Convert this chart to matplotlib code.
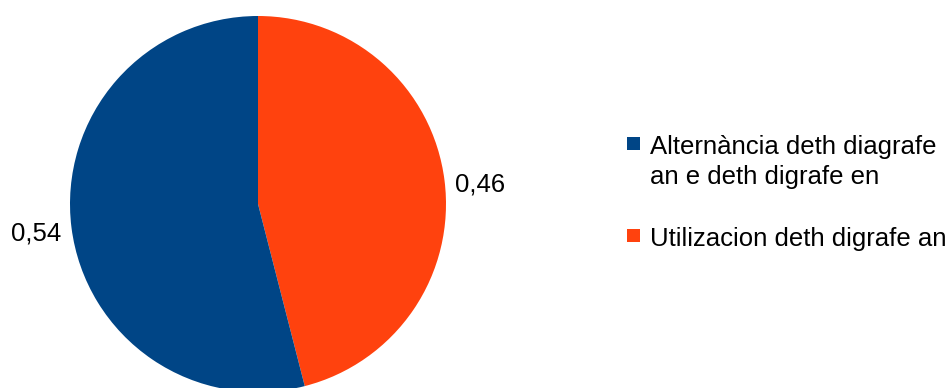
import matplotlib.pyplot as plt
from matplotlib.patches import Rectangle

plt.rcParams['font.family'] = ['Liberation Sans', 'DejaVu Sans']

# data
categories = ["Alternància deth diagrafe\nan e deth digrafe en", "Utilizacion deth digrafe an"]
values = [0.54, 0.46]
value_labels = ["0,54", "0,46"]
colors = ["#004586", "#ff420e"]

W, H = 950, 388
fig = plt.figure(figsize=(9.5, 3.88), dpi=100)
ax = fig.add_axes([0, 0, 1, 1])

# orange slice first, clockwise from 12 o'clock
wedges, texts = ax.pie(values[::-1], colors=colors[::-1], startangle=90, counterclock=False,
                       center=(258, 184), radius=188, labels=value_labels[::-1],
                       labeldistance=1.055, frame=True,
                       textprops={'fontsize': 18.5, 'color': 'black'})
# pie picks alignment from the absolute x, so fix it for the left label
texts[0].set_ha('left')
texts[1].set_ha('right')
for t in texts:
    t.set_y(t.get_position()[1] - 5)
ax.set_xlim(0, W)
ax.set_ylim(0, H)
ax.set_aspect('equal')
ax.axis('off')

# legend drawn by hand (square lines up with the first text line)
legend_x, legend_top, entry_step = 627, 137, 92
for i, (lab, col) in enumerate(zip(categories, colors)):
    top = legend_top + i * entry_step
    ax.add_patch(Rectangle((legend_x, H - top - 13), 13, 13, facecolor=col, edgecolor='none'))
    ax.text(legend_x + 23, H - top + 2, lab, fontsize=18.5, va='top', ha='left',
            linespacing=1.32)

fig.savefig('out.png', dpi=100)
